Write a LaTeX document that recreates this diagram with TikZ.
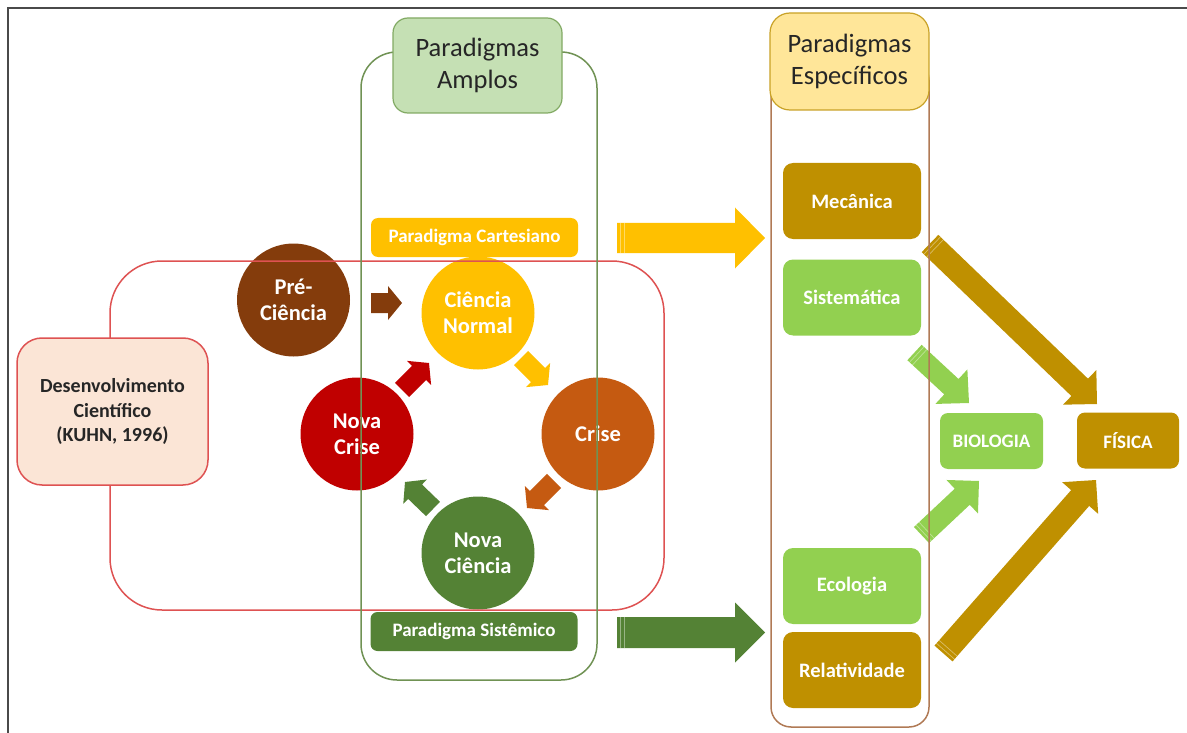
\documentclass[tikz,border=0pt]{standalone}
\usepackage{fontspec}
\setmainfont{Carlito}
\usetikzlibrary{calc}

\definecolor{gold}{HTML}{BF9000}
\definecolor{lgreen}{HTML}{92D050}
\definecolor{amber}{HTML}{FFC000}
\definecolor{dgreen}{HTML}{548235}
\definecolor{brownc}{HTML}{843C0C}
\definecolor{orangec}{HTML}{C55A11}
\definecolor{redc}{HTML}{C00000}
\definecolor{framegreen}{RGB}{112,146,84}
\definecolor{framebrown}{RGB}{176,122,85}
\definecolor{framered}{RGB}{222,82,82}
\definecolor{paleg}{HTML}{C5E0B4}
\definecolor{paley}{HTML}{FFE699}
\definecolor{palepink}{HTML}{FBE5D6}
\definecolor{inkgray}{HTML}{262626}
\definecolor{edgegray}{HTML}{4A4A4A}

% block arrow: #1 colour, #2 tail, #3 tip, #4 shaft half width,
% #5 head half width, #6 head length, #7 prefix for helper coordinates
\newcommand\blockarrow[7]{%
  \coordinate (#7b) at ($(#3)!#6!(#2)$);
  \fill[#1] ($(#2)!#4!90:(#3)$) -- ($(#7b)!#4!90:(#3)$) -- ($(#7b)!#5!90:(#3)$)
    -- (#3) -- ($(#7b)!#5!-90:(#3)$) -- ($(#7b)!#4!-90:(#3)$)
    -- ($(#2)!#4!-90:(#3)$) -- cycle;
}
% two thin light stripes across the tail of a striped arrow
\newcommand\tailstripes[4]{%
  \coordinate (#4s1) at ($(#1)!3pt!(#2)$);
  \coordinate (#4s2) at ($(#1)!7pt!(#2)$);
  \draw[white, opacity=.4, line width=.7pt] ($(#4s1)!#3!90:(#2)$) -- ($(#4s1)!#3!-90:(#2)$);
  \draw[white, opacity=.4, line width=.7pt] ($(#4s2)!#3!90:(#2)$) -- ($(#4s2)!#3!-90:(#2)$);
}

\tikzset{
  phase/.style={circle, minimum size=113pt, inner sep=0pt, text=white,
    align=center, font=\bfseries\fontsize{22.5}{26}\selectfont},
  fieldbox/.style={rounded corners=10pt, minimum width=138pt, minimum height=76pt,
    inner sep=0pt, text=white, font=\bfseries\fontsize{20.5}{24}\selectfont},
  areabox/.style={rounded corners=8pt, minimum height=56pt, inner sep=0pt,
    text=white, font=\bfseries\fontsize{19}{22}\selectfont},
  parbox/.style={rounded corners=7pt, minimum width=207pt, minimum height=39pt,
    inner sep=0pt, text=white, font=\bfseries\fontsize{19}{22}\selectfont},
  headbox/.style={draw, line width=1.2pt, align=center, inner sep=0pt,
    text=inkgray, font=\fontsize{26.5}{32}\selectfont},
  outline/.style={draw, line width=1.5pt, inner sep=0pt}
}

\begin{document}
\begin{tikzpicture}[x=1pt, y=-1pt]
\useasboundingbox (0,0) rectangle (1187,733);

% page edge
\draw[edgegray, line width=2.2pt] (8,733) -- (8,8) -- (1187,8);

% Kuhn cycle
\node[phase, fill=brownc]  (pre)  at (293.5,300) {Pré-\\Ciência};
\node[phase, fill=amber]   (norm) at (478,313)   {Ciência\\Normal};
\node[phase, fill=orangec] (cri)  at (598,434)   {Crise};
\node[phase, fill=dgreen]  (nci)  at (478,553)   {Nova\\Ciência};
\node[phase, fill=redc]    (ncr)  at (357,434)   {Nova\\Crise};

\coordinate (a1t) at (371,303);  \coordinate (a1h) at (402,303);
\coordinate (a2t) at (521,358);  \coordinate (a2h) at (548,385);
\coordinate (a3t) at (554,481);  \coordinate (a3h) at (527,508);
\coordinate (a4t) at (433,509);  \coordinate (a4h) at (405,482);
\coordinate (a5t) at (402,390);  \coordinate (a5h) at (429,363);
\blockarrow{brownc}{a1t}{a1h}{10pt}{17pt}{14pt}{a1}
\blockarrow{amber}{a2t}{a2h}{10pt}{17pt}{14pt}{a2}
\blockarrow{orangec}{a3t}{a3h}{10pt}{17pt}{14pt}{a3}
\blockarrow{dgreen}{a4t}{a4h}{10pt}{17pt}{14pt}{a4}
\blockarrow{redc}{a5t}{a5h}{10pt}{17pt}{14pt}{a5}

% broad paradigms
\node[parbox, fill=amber]  (cart) at (474.5,237.5) {Paradigma Cartesiano};
\node[parbox, fill=dgreen] (sist) at (474,631.5)   {Paradigma Sistêmico};

% specific fields
\node[fieldbox, fill=gold]   (mec) at (852,201)   {Mecânica};
\node[fieldbox, fill=lgreen] (sis) at (852,297.5) {Sistemática};
\node[fieldbox, fill=lgreen] (eco) at (852,586)   {Ecologia};
\node[fieldbox, fill=gold]   (rel) at (852,670)   {Relatividade};
\node[areabox, minimum width=103pt, fill=lgreen] (bio) at (991.5,441) {BIOLOGIA};
\node[areabox, minimum width=102pt, fill=gold]   (fis) at (1128,440.5) {FÍSICA};

% broad to specific
\coordinate (ct) at (617,238);   \coordinate (ch) at (765,238);
\coordinate (st) at (617,632.5); \coordinate (sh) at (765,632.5);
\blockarrow{amber}{ct}{ch}{15pt}{30.5pt}{30pt}{c}
\blockarrow{dgreen}{st}{sh}{15.5pt}{30pt}{30pt}{s}
\tailstripes{ct}{ch}{15pt}{c}
\tailstripes{st}{sh}{15.5pt}{s}

% fields to sciences
\coordinate (mft) at (930,243.5);  \coordinate (mfh) at (1097,404);
\coordinate (sbt) at (914.5,352.5); \coordinate (sbh) at (969,403);
\coordinate (ebt) at (921.5,535);  \coordinate (ebh) at (979,481);
\coordinate (rft) at (943.5,653.5); \coordinate (rfh) at (1096,480);
\blockarrow{gold}{mft}{mfh}{12pt}{24pt}{24pt}{mf}
\blockarrow{lgreen}{sbt}{sbh}{10.5pt}{23.5pt}{24pt}{sb}
\blockarrow{lgreen}{ebt}{ebh}{11pt}{23pt}{23pt}{eb}
\blockarrow{gold}{rft}{rfh}{12pt}{24pt}{24pt}{rf}
\tailstripes{mft}{mfh}{12pt}{mf}
\tailstripes{sbt}{sbh}{10.5pt}{sb}
\tailstripes{ebt}{ebh}{11pt}{eb}
\tailstripes{rft}{rfh}{12pt}{rf}

% enclosing frames
\node[outline, draw=framered, rounded corners=52pt,
  minimum width=554pt, minimum height=349pt] (kuhnframe) at (387,435.5) {};
\node[outline, draw=framegreen, rounded corners=36pt,
  minimum width=236pt, minimum height=628pt] (amplframe) at (479,366) {};
\node[outline, draw=framebrown, rounded corners=20pt,
  minimum width=158pt, minimum height=667pt] (specframe) at (850,393.5) {};

% headings
\node[draw=framered, line width=1.5pt, fill=palepink, rounded corners=25pt,
  minimum width=191pt, minimum height=147pt, inner sep=0pt, align=center,
  text=inkgray, font=\bfseries\fontsize{20}{24.5}\selectfont]
  (desenv) at (112.5,411.5) {Desenvolvimento\\Científico\\(KUHN, 1996)};
\node[headbox, draw={rgb,255:red,130;green,170;blue,100}, fill=paleg,
  rounded corners=15pt, minimum width=169pt, minimum height=95pt]
  (ampl) at (477.5,65.5) {Paradigmas\\Amplos};
\node[headbox, draw={rgb,255:red,201;green,162;blue,39}, fill=paley,
  rounded corners=20pt, minimum width=159pt, minimum height=97pt]
  (spec) at (849.5,61.5) {Paradigmas\\Específicos};
\end{tikzpicture}
\end{document}
